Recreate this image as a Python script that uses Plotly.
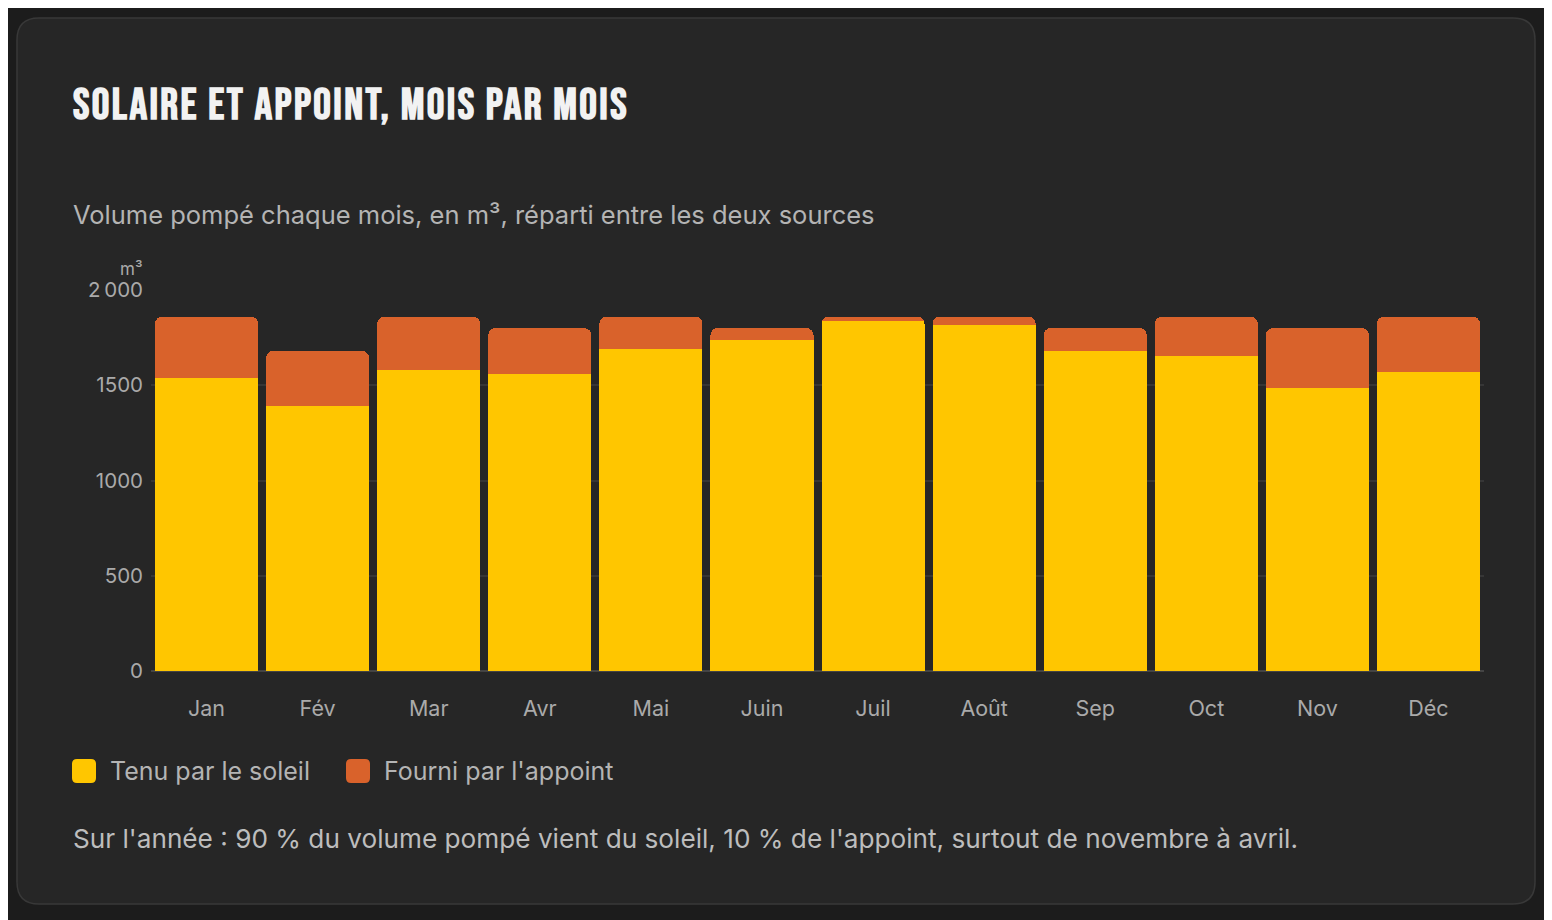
import plotly.graph_objects as go

# Monthly pumped volume (m³), split between the two sources
mois = ["Jan", "Fév", "Mar", "Avr", "Mai", "Juin", "Juil", "Août", "Sep", "Oct", "Nov", "Déc"]
soleil = [1540, 1392, 1580, 1560, 1688, 1740, 1836, 1814, 1680, 1656, 1488, 1572]
appoint = [320, 288, 280, 240, 172, 60, 24, 46, 120, 204, 312, 288]

y_ticks = [0, 500, 1000, 1500, 2000]
y_ticktext = ["0", "500", "1000", "1500", "2\u202f000"]

legend_labels = ["Tenu par le soleil", "Fourni par l'appoint"]
COLORS = ["#FFC600", "#D9622B"]

# page body adds an 8px offset, so the figure is drawn 8px smaller and shifted
OFF = 8
W, H = 1552 - OFF, 920 - OFF
L, R, T, B = 151 - OFF, 68, 290 - OFF, 249
PW, PH = W - L - R, H - T - B


def px(x):
    return (x - OFF - L) / PW


def py(y):
    return (H - B - (y - OFF)) / PH


def rrect(x0, y0, x1, y1, r):
    # rounded rectangle path in paper coords from a pixel box
    a, b, c, d = px(x0), px(x1), py(y0), py(y1)
    rx, ry = r / PW, r / PH
    return (f"M{a + rx},{c} L{b - rx},{c} Q{b},{c} {b},{c - ry} "
            f"L{b},{d + ry} Q{b},{d} {b - rx},{d} L{a + rx},{d} "
            f"Q{a},{d} {a},{d + ry} L{a},{c - ry} Q{a},{c} {a + rx},{c} Z")


fig = go.Figure()
fig.add_trace(go.Bar(x=mois, y=soleil, name=legend_labels[0], marker_color=COLORS[0],
                     marker_line_width=0))
fig.add_trace(go.Bar(x=mois, y=appoint, name=legend_labels[1], marker_color=COLORS[1],
                     marker_line_width=0))

shapes = [dict(type="path", xref="paper", yref="paper", layer="below",
               path=rrect(17, 18, 1535, 904, 22),
               fillcolor="#262626", line=dict(color="#383838", width=1.5))]

FONT = "Inter, 'Noto Sans', sans-serif"


def note(text, x, y, size, color, anchor="left", family=FONT, weight="normal"):
    return dict(text=text, x=px(x), y=py(y), xref="paper", yref="paper",
                xanchor=anchor, yanchor="middle", showarrow=False,
                font=dict(family=family, size=size, color=color, weight=weight))


annotations = [
    note("<span style='letter-spacing:2.4px'>SOLAIRE ET APPOINT, MOIS PAR MOIS</span>", 71, 106, 44,
         "#f2f2f2",
         family="'Bebas Neue', 'Liberation Sans Narrow', 'DejaVu Sans Condensed', sans-serif",
         weight="bold"),
    note("Volume pompé chaque mois, en m³, réparti entre les deux sources", 71, 215, 25.5, "#b4b4b4"),
    note("m³", 144, 269, 17, "#aaaaaa", anchor="right"),
    note("Sur l'année : 90 % du volume pompé vient du soleil, 10 % de l'appoint, "
         "surtout de novembre à avril.", 71, 838, 26.2, "#bdbdbd"),
]

# custom legend with large rounded swatches
for lab, col, x0 in zip(legend_labels, COLORS, [72, 346]):
    shapes.append(dict(type="path", xref="paper", yref="paper",
                       path=rrect(x0, 759, x0 + 24, 783, 5), fillcolor=col, line_width=0))
    annotations.append(note(lab, x0 + 36, 771, 25, "#b4b4b4"))

fig.update_layout(
    width=W, height=H,
    margin=dict(l=L, r=R, t=T, b=B),
    paper_bgcolor="#1c1c1c", plot_bgcolor="rgba(0,0,0,0)",
    barmode="stack", bargap=0.072, barcornerradius=7,
    showlegend=False,
    shapes=shapes, annotations=annotations,
    font=dict(family=FONT, color="#aaaaaa"),
)
fig.update_xaxes(showgrid=False, showline=False, ticks="", ticklabelstandoff=22,
                 tickfont=dict(size=21.5, color="#aaaaaa"))
fig.update_yaxes(range=[0, 2000], tickvals=y_ticks, ticktext=y_ticktext,
                 showgrid=True, gridcolor="#363636", gridwidth=1.5,
                 zeroline=True, zerolinecolor="#444444", zerolinewidth=1.5,
                 showline=False, ticks="", ticklabelstandoff=7,
                 tickfont=dict(size=20.5, color="#aaaaaa"))

fig.write_html("out.html")
